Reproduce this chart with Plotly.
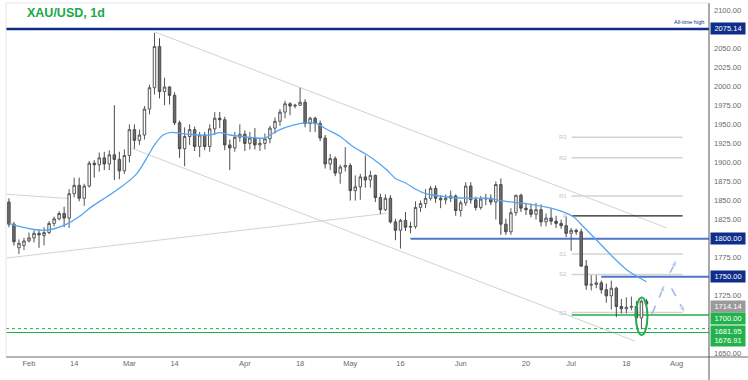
import plotly.graph_objects as go

# ---------------- data ----------------
# bar index: 0 = 1 Feb 2022 (weekdays only); first bar is 26 Jan 2022
bar_idx = list(range(-4, 124))
opens = [1848, 1819, 1788, 1791, 1797, 1801, 1807, 1804, 1808, 1820, 1826, 1833, 1827, 1859, 1870, 1853,
         1869, 1899, 1897, 1906, 1898, 1910, 1904, 1889, 1909, 1943, 1929, 1936, 1970, 1998, 2052, 1993,
         1999, 1988, 1952, 1918, 1934, 1943, 1921, 1936, 1921, 1944, 1958, 1956, 1923, 1919, 1933, 1937,
         1925, 1932, 1923, 1925, 1931, 1945, 1954, 1966, 1977, 1974, 1975, 1979, 1951, 1958, 1951, 1932,
         1898, 1905, 1886, 1894, 1896, 1863, 1868, 1881, 1877, 1883, 1854, 1838, 1853, 1822, 1811, 1824,
         1815, 1816, 1841, 1846, 1853, 1866, 1853, 1851, 1853, 1856, 1837, 1847, 1869, 1851, 1841, 1852,
         1853, 1848, 1871, 1819, 1809, 1834, 1857, 1840, 1838, 1832, 1838, 1822, 1827, 1823, 1820, 1817,
         1807, 1811, 1809, 1764, 1739, 1740, 1742, 1733, 1725, 1735, 1711, 1708, 1710, 1711, 1696, 1718]
highs = [1853, 1822, 1799, 1801, 1808, 1811, 1812, 1815, 1823, 1829, 1836, 1842, 1865, 1880, 1880, 1872,
         1902, 1903, 1913, 1914, 1916, 1975, 1914, 1917, 1950, 1950, 1943, 1974, 2002, 2070, 2063, 2011,
         2000, 1992, 1955, 1946, 1950, 1947, 1940, 1940, 1950, 1966, 1966, 1960, 1930, 1940, 1950, 1942,
         1940, 1945, 1932, 1938, 1948, 1959, 1970, 1981, 1979, 1977, 1998, 1983, 1960, 1960, 1955, 1936,
         1911, 1908, 1897, 1920, 1899, 1883, 1885, 1909, 1889, 1884, 1859, 1858, 1857, 1826, 1826, 1835,
         1822, 1849, 1850, 1865, 1869, 1870, 1857, 1858, 1863, 1858, 1850, 1874, 1874, 1855, 1856, 1859,
         1858, 1875, 1879, 1826, 1840, 1857, 1859, 1847, 1846, 1847, 1845, 1833, 1840, 1830, 1825, 1829,
         1814, 1813, 1813, 1772, 1752, 1752, 1745, 1741, 1745, 1737, 1721, 1723, 1724, 1718, 1720, 1721]
lows = [1815, 1791, 1780, 1785, 1795, 1795, 1788, 1791, 1806, 1816, 1824, 1815, 1814, 1854, 1849, 1843,
        1867, 1880, 1888, 1890, 1890, 1877, 1878, 1885, 1900, 1918, 1923, 1930, 1963, 1989, 1984, 1975,
        1976, 1949, 1906, 1895, 1923, 1915, 1907, 1916, 1914, 1936, 1945, 1916, 1890, 1914, 1927, 1915,
        1917, 1917, 1915, 1917, 1925, 1938, 1948, 1958, 1962, 1971, 1974, 1946, 1940, 1940, 1928, 1892,
        1890, 1882, 1872, 1888, 1850, 1850, 1851, 1867, 1867, 1848, 1832, 1836, 1820, 1798, 1787, 1810,
        1807, 1813, 1835, 1840, 1850, 1847, 1840, 1845, 1848, 1830, 1829, 1843, 1846, 1837, 1838, 1844,
        1844, 1825, 1805, 1805, 1805, 1830, 1835, 1831, 1828, 1825, 1816, 1816, 1818, 1814, 1813, 1802,
        1784, 1805, 1763, 1733, 1732, 1735, 1728, 1716, 1707, 1697, 1702, 1702, 1706, 1693, 1681, 1712]
closes = [1819, 1796, 1794, 1797, 1801, 1807, 1805, 1808, 1820, 1826, 1833, 1827, 1859, 1870, 1853, 1869,
          1899, 1897, 1906, 1898, 1910, 1904, 1889, 1909, 1943, 1929, 1936, 1970, 1998, 2052, 1993, 1999,
          1988, 1952, 1918, 1934, 1943, 1921, 1936, 1921, 1944, 1958, 1956, 1923, 1919, 1933, 1937, 1925,
          1932, 1923, 1925, 1931, 1945, 1954, 1966, 1977, 1974, 1975, 1979, 1951, 1958, 1951, 1932, 1898,
          1905, 1886, 1894, 1896, 1863, 1868, 1881, 1877, 1883, 1854, 1838, 1853, 1822, 1811, 1824, 1815,
          1816, 1841, 1846, 1853, 1866, 1853, 1851, 1853, 1856, 1837, 1847, 1869, 1851, 1841, 1852, 1853,
          1848, 1871, 1819, 1809, 1834, 1857, 1840, 1838, 1832, 1838, 1822, 1827, 1823, 1820, 1817, 1807,
          1811, 1809, 1764, 1739, 1740, 1742, 1733, 1725, 1735, 1711, 1708, 1710, 1711, 1696, 1718, 1714.14]

# moving average readings (bar index, price)
ma_idx = [-4, -2, 1, 3, 5, 7.5, 10, 12.5, 15.5, 18, 21, 22, 24, 25, 26.7, 28.4, 30, 33.4, 36, 38, 40,
          42.6, 47, 48, 50, 52.6, 55, 57.3, 59.3, 62, 64.5, 67.3, 69.3, 71.3, 73, 75, 77, 79, 83, 87, 91,
          95, 99, 104, 106.4, 108.4, 110.4, 113.1, 116.3, 119.1, 123]
ma_val = [1820, 1816, 1812, 1811, 1813, 1819, 1829, 1842, 1855, 1866, 1882, 1890, 1912, 1923, 1936,
          1939.5, 1938, 1936, 1936, 1939, 1936, 1934, 1932, 1936, 1943, 1949, 1952, 1951, 1943.5, 1934,
          1921, 1910, 1901, 1890, 1879, 1873, 1865, 1859, 1855, 1853, 1853, 1849, 1846, 1840, 1835, 1829,
          1816, 1798, 1776, 1759, 1743.5]

# x-axis labels
tick_idx = [0, 9, 20, 29, 43, 54, 64, 74, 86, 99, 108, 119, 129]
tick_text = ["Feb", "14", "Mar", "14", "Apr", "18", "May", "16", "Jun", "20", "Jul", "18", "Aug"]
# right-axis tick values (those hidden behind price boxes are left out)
y_ticks = [1650, 1725, 1775, 1825, 1850, 1875, 1900, 1925, 1950, 1975, 2000, 2025, 2050, 2100]

# key levels
ath_level = 2075.14
res_levels = [1800.00, 1750.00]
res_start = [76, 114]
support_level = 1700.00
support_start = 108.1
low_levels = [1681.95, 1676.91]
last_price = 1714.14

# pivot levels
pivot_names = ["R3", "R2", "R1", "P", "S1", "S2", "S3"]
pivot_vals = [1933, 1906, 1856, 1830, 1780, 1753, 1703]
pivot_span = [108.1, 130.2]

# trend lines (bar index, price)
trend_lines = [
    ((25.1, 2071.1), (127.1, 1814.0)),
    ((20.5, 1918.5), (120.7, 1665.7)),
    ((-4.4, 1774.6), (71.3, 1833.3)),
    ((-4.4, 1858.2), (7.8, 1852.7)),
]

# scenario arrows
arrows = [
    ((124.1, 1701.2), (126.7, 1740.6)),
    ((128.0, 1734.9), (130.7, 1702.0)),
    ((127.7, 1755.3), (129.1, 1772.9)),
]

# highlighted bar oval
oval_x = [120.9, 123.2]
oval_y = [1673.6, 1722.8]

# ---------------- figure ----------------
X_MIN, X_MAX = -4.58, 135.46
Y_MIN, Y_MAX = 1644.74, 2109.18
NAVY = "#0f2d8a"
BLUE = "#4f74c8"
GREEN = "#1fae4b"
GREY_LINE = "#d3d3d3"
FONT = "Liberation Sans, Arial, sans-serif"

fig = go.Figure()

fig.add_trace(go.Candlestick(
    x=bar_idx, open=opens, high=highs, low=lows, close=closes,
    increasing=dict(fillcolor="#ffffff", line=dict(color="#555555", width=1)),
    decreasing=dict(fillcolor="#6e6e6e", line=dict(color="#4a4a4a", width=1)),
    whiskerwidth=0, showlegend=False, hoverinfo="skip"))

fig.add_trace(go.Scatter(
    x=ma_idx, y=ma_val, mode="lines",
    line=dict(color="#56a5f3", width=1.3, shape="spline", smoothing=0.8),
    showlegend=False, hoverinfo="skip"))

for (p0, p1) in arrows:
    fig.add_trace(go.Scatter(
        x=[p0[0], p1[0]], y=[p0[1], p1[1]], mode="lines+markers",
        line=dict(color="#9db3e6", width=1.5, dash="dash"),
        marker=dict(symbol="arrow", size=[0, 8], angleref="previous", color="#9db3e6"),
        showlegend=False, hoverinfo="skip"))

shapes = []
for (p0, p1) in trend_lines:
    shapes.append(dict(type="line", xref="x", yref="y", x0=p0[0], y0=p0[1], x1=p1[0], y1=p1[1],
                       line=dict(color="#d2d2d2", width=1), layer="below"))
for name, v in zip(pivot_names, pivot_vals):
    col = "#222222" if name == "P" else GREY_LINE
    shapes.append(dict(type="line", xref="x", yref="y", x0=pivot_span[0], x1=pivot_span[1], y0=v, y1=v,
                       line=dict(color=col, width=1.5 if name != "P" else 1.3), layer="below"))
shapes.append(dict(type="line", xref="x", yref="y", x0=X_MIN, x1=X_MAX, y0=ath_level, y1=ath_level,
                   line=dict(color=NAVY, width=2.5)))
for lv, st in zip(res_levels, res_start):
    shapes.append(dict(type="line", xref="x", yref="y", x0=st, x1=X_MAX, y0=lv, y1=lv,
                       line=dict(color=BLUE, width=2), layer="below"))
shapes.append(dict(type="line", xref="x", yref="y", x0=support_start, x1=X_MAX, y0=support_level,
                   y1=support_level, line=dict(color=GREEN, width=1.5), layer="below"))
shapes.append(dict(type="line", xref="x", yref="y", x0=X_MIN, x1=X_MAX, y0=low_levels[0], y1=low_levels[0],
                   line=dict(color=GREEN, width=1, dash="dot"), layer="below"))
shapes.append(dict(type="line", xref="x", yref="y", x0=X_MIN, x1=X_MAX, y0=low_levels[1], y1=low_levels[1],
                   line=dict(color=GREEN, width=1.2), layer="below"))
shapes.append(dict(type="circle", xref="x", yref="y", x0=oval_x[0], x1=oval_x[1], y0=oval_y[0], y1=oval_y[1],
                   line=dict(color=GREEN, width=2)))
# frame
shapes.append(dict(type="line", xref="paper", yref="paper", x0=0, x1=1.0555, y0=0, y1=0,
                   line=dict(color="#b4b4b4", width=2)))
shapes.append(dict(type="line", xref="paper", yref="paper", x0=1, x1=1, y0=-0.066, y1=1,
                   line=dict(color="#555555", width=1)))
shapes.append(dict(type="line", xref="paper", yref="paper", x0=0, x1=0, y0=0, y1=1,
                   line=dict(color="#e6e6e6", width=1)))
shapes.append(dict(type="line", xref="paper", yref="paper", x0=0, x1=1, y0=1, y1=1,
                   line=dict(color="#e6e6e6", width=1)))

annotations = []
annotations.append(dict(text="<b>XAU/USD, 1d</b>", xref="paper", yref="paper", x=0.027, y=0.972,
                        xanchor="left", yanchor="middle", showarrow=False,
                        font=dict(family=FONT, size=12.5, color="#1aa84a")))
annotations.append(dict(text="All-time high", xref="paper", yref="y", x=0.996, y=ath_level, yshift=7,
                        xanchor="right", yanchor="middle", showarrow=False,
                        font=dict(family=FONT, size=5.5, color=NAVY)))
for name, v in zip(pivot_names, pivot_vals):
    annotations.append(dict(text=name, xref="x", yref="y", x=107.6, y=v, xanchor="right", yanchor="middle",
                            showarrow=False, font=dict(family=FONT, size=6, color="#c4c4c4")))

# price labels on right axis
box_vals = [ath_level, res_levels[0], res_levels[1], last_price, support_level]
box_text = [f"{v:.2f}" for v in box_vals]
box_cols = [NAVY, NAVY, NAVY, "#9a9a9a", "#22b24c"]
box_shift = [0, 0, 0, -2, -3.5]
for v, t, c, s in zip(box_vals, box_text, box_cols, box_shift):
    annotations.append(dict(text=t, xref="paper", yref="y", x=1, y=v, yshift=s, xshift=1,
                            xanchor="left", yanchor="middle", showarrow=False, bgcolor=c,
                            width=33, height=10, borderpad=0.5,
                            font=dict(family=FONT, size=7.5, color="#ffffff")))
annotations.append(dict(text=f"{low_levels[0]:.2f}<br>{low_levels[1]:.2f}", xref="paper", yref="y", x=1,
                        y=(low_levels[0] + low_levels[1]) / 2, yshift=-5.5, xshift=1,
                        xanchor="left", yanchor="middle", showarrow=False, bgcolor="#22b24c",
                        width=33, height=19, borderpad=0.5,
                        font=dict(family=FONT, size=7.5, color="#ffffff")))

fig.update_layout(
    width=748, height=380,
    margin=dict(l=6, r=39, t=3, b=23),
    paper_bgcolor="white", plot_bgcolor="white",
    showlegend=False,
    font=dict(family=FONT),
    shapes=shapes, annotations=annotations,
    xaxis=dict(range=[X_MIN, X_MAX], rangeslider=dict(visible=False), tickmode="array",
               tickvals=tick_idx, ticktext=tick_text, showgrid=False, zeroline=False,
               ticks="", tickfont=dict(family=FONT, size=7.5, color="#6a6a6a"), fixedrange=True),
    yaxis=dict(range=[Y_MIN, Y_MAX], side="right", tickmode="array", tickvals=y_ticks,
               ticktext=[f"{v:.2f}" for v in y_ticks], showgrid=False, zeroline=False,
               ticks="", ticklabelstandoff=4,
               tickfont=dict(family=FONT, size=7.5, color="#6a6a6a"), fixedrange=True),
)

fig.write_html("out.html", config={"displayModeBar": False, "responsive": False},
               post_script="document.body.style.margin='0';document.body.style.overflow='hidden';")
